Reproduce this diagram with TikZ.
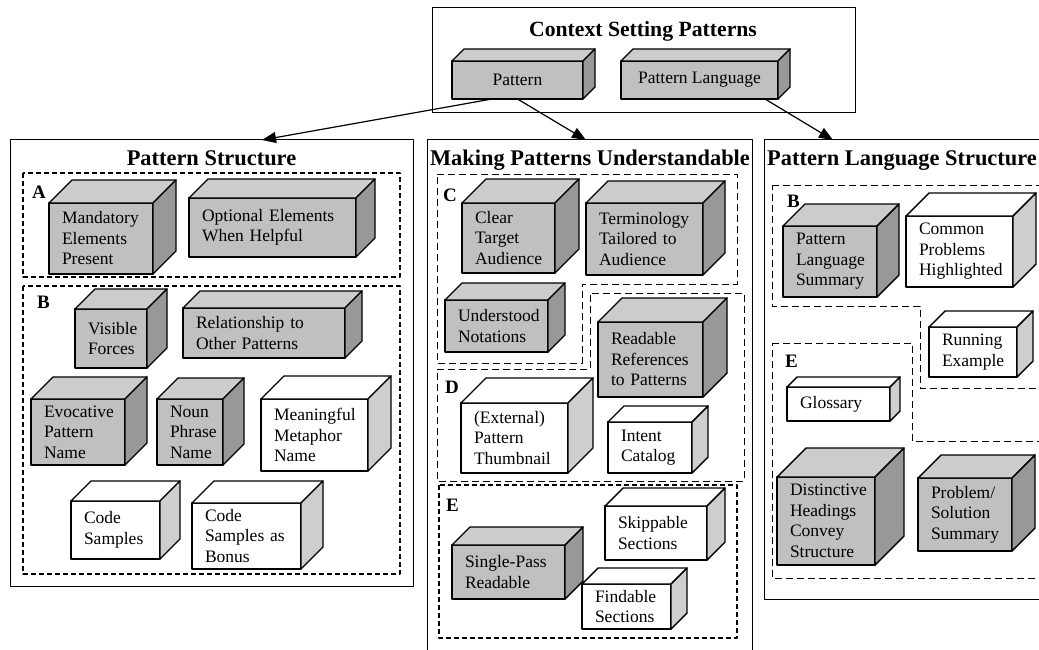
\documentclass[tikz,border=0pt]{standalone}
\usepackage{fontspec}
\setmainfont{Liberation Serif}
\usetikzlibrary{arrows.meta}

\definecolor{gfront}{RGB}{192,192,192}
\definecolor{gtop}{RGB}{204,204,204}
\definecolor{gside}{RGB}{152,152,152}
\definecolor{wfront}{RGB}{255,255,255}
\definecolor{wtop}{RGB}{255,255,255}
\definecolor{wside}{RGB}{206,206,206}

\hyphenpenalty=10000
\exhyphenpenalty=10000

\newcommand{\boxfont}{\fontsize{17.5}{20.5}\selectfont}
\newcommand{\ttlfont}{\fontsize{21.7}{26}\selectfont\bfseries}
\newcommand{\sidettlfont}{\fontsize{22.4}{26}\selectfont\bfseries}
\newcommand{\lblfont}{\fontsize{19}{22}\selectfont\bfseries}

\tikzset{
  panel/.style={draw, line width=1pt, inner sep=0pt, outer sep=0pt},
  cube/.style={draw, line width=1.4pt, inner xsep=13pt, inner ysep=0pt, outer sep=0pt, align=left, font=\boxfont},
  ttl/.style={font=\ttlfont, inner sep=0pt, anchor=base},
  sidettl/.style={ttl, font=\sidettlfont},
  lbl/.style={font=\lblfont, inner sep=0pt, anchor=base west},
  thickdash/.style={line width=1.4pt, dash pattern=on 5pt off 3pt},
  thindash/.style={line width=0.9pt, dash pattern=on 7pt off 4pt},
  link/.style={->, line width=1.2pt}
}

% top and side faces of a cube node
\newcommand{\cubefaces}[3]{%
  \draw[line width=1.4pt, fill=#3top] (#1.north west) -- ++(#2,-#2) -- ([shift={(#2,-#2)}]#1.north east) -- (#1.north east) -- cycle;
  \draw[line width=1.4pt, fill=#3side] (#1.north east) -- ++(#2,-#2) -- ([shift={(#2,-#2)}]#1.south east) -- (#1.south east) -- cycle;}

% name, colour set, front face x1 y1 x2 y2, depth, text
\newcommand{\cubebox}[8]{%
  \pgfmathsetmacro\cubew{#5-#3}%
  \pgfmathsetmacro\cubeh{#6-#4}%
  \pgfmathsetmacro\cubetw{#5-#3-26}%
  \node[cube, fill=#2front, minimum width=\cubew pt, minimum height=\cubeh pt, text width=\cubetw pt] (#1) at ({(#3+#5)/2},{(#4+#6)/2}) {#8};
  \cubefaces{#1}{#7}{#2}}

\begin{document}
\begin{tikzpicture}[line join=round,>={Triangle[length=14pt,width=11pt]},x=1pt,y=-1pt]
\useasboundingbox (0,0) rectangle (1039,650);
\clip (0,0) rectangle (1039,650);

\draw[line width=1pt] (432,8) rectangle (855,113);
\node[ttl] (ctxtitle) at (643,36.5) {Context Setting Patterns};
\node[cube, fill=gfront, minimum width=131pt, minimum height=38pt, align=center] (pat) at (517.5,80) {Pattern};
\cubefaces{pat}{12}{g}
\node[cube, fill=gfront, minimum width=157pt, minimum height=38pt, align=center] (patlang) at (699.5,80) {Pattern Language};
\cubefaces{patlang}{12}{g}

\node[panel, minimum width=403pt, minimum height=446pt] (pstruct) at (211.5,363) {};
\node[panel, minimum width=325pt, minimum height=520pt] (mpu) at (589.5,400) {};
\node[panel, minimum width=286pt, minimum height=459pt] (plstruct) at (907,369.5) {};
\node[sidettl] (pstitle) at (211.5,165) {Pattern Structure};
\node[sidettl] (mputitle) at (590,165) {Making Patterns Understandable};
\node[sidettl, anchor=base west] (plstitle) at (767,165) {Pattern Language Structure};

\draw[link] ([xshift=-25.5pt]pat.south) -- ([xshift=50.5pt]pstruct.north);
\draw[link] (pat.south) -- ([xshift=-3.5pt]mpu.north);
\draw[link] ([xshift=65.5pt]patlang.south) -- ([xshift=-74pt]plstruct.north);

\draw[thickdash] (23,173) rectangle (400,277);
\draw[thickdash] (23,286) rectangle (400,574);
\node[lbl] (la) at (32,198) {A};
\node[lbl] (lb) at (37,308) {B};
\cubebox{mand}{g}{49}{203}{153}{274}{23}{Mandatory\\Elements\\Present}
\cubebox{opt}{g}{189}{198}{356}{257}{19}{Optional Elements\\When Helpful}
\cubebox{forces}{g}{75}{309}{147}{368}{20}{Visible\\Forces}
\cubebox{rel}{g}{183}{308}{345}{358}{17}{Relationship to\\Other Patterns}
\cubebox{evoc}{g}{31}{399}{125}{465}{22}{Evocative\\Pattern\\Name}
\cubebox{noun}{g}{157}{399}{223}{465}{21}{Noun\\Phrase\\Name}
\cubebox{meta}{w}{261}{399}{368}{471}{23}{Meaningful\\Metaphor\\Name}
\cubebox{code}{w}{71}{501}{160}{559}{20}{Code\\Samples}
\cubebox{bonus}{w}{192}{503}{301}{569}{22}{Code\\Samples as\\Bonus}

\draw[thindash] (437,174) -- (737,174) -- (737,284) -- (582,284) -- (582,363) -- (437,363) -- cycle;
\draw[thindash] (437,369) -- (590,369) -- (590,293) -- (744,293) -- (744,481) -- (437,481) -- cycle;
\draw[thickdash] (439,485) rectangle (737,638);
\node[lbl] (lc) at (443,201) {C};
\node[lbl] (ld) at (445,393) {D};
\node[lbl] (le) at (446,511) {E};
\cubebox{clear}{g}{462}{203}{555}{273}{24}{Clear\\Target\\Audience}
\cubebox{term}{g}{586}{203}{703}{275}{22}{Terminology\\Tailored to\\Audience}
\cubebox{notat}{g}{445}{300}{548}{352}{17}{Understood\\Notations}
\cubebox{refs}{g}{598}{322}{703}{397}{24}{Readable\\References\\to Patterns}
\cubebox{thumb}{w}{461}{403}{568}{473}{25}{(External)\\Pattern\\Thumbnail}
\cubebox{intent}{w}{608}{422}{692}{473}{16}{Intent\\Catalog}
\cubebox{skip}{w}{605}{506}{707}{560}{18}{Skippable\\Sections}
\cubebox{single}{g}{452}{545}{565}{599}{18}{Single-Pass\\Readable}
\cubebox{find}{w}{582}{584}{671}{629}{16}{Findable\\Sections}

\draw[thindash] (772,185) -- (1050,185) -- (1050,388) -- (920,388) -- (920,306) -- (772,306) -- cycle;
\draw[thindash] (772,343) -- (912,343) -- (912,441) -- (1050,441) -- (1050,578) -- (772,578) -- cycle;
\node[lbl] (lb2) at (787,207) {B};
\node[lbl] (le2) at (785,367) {E};
\cubebox{plsum}{g}{783}{226}{877}{297}{22}{Pattern\\Language\\Summary}
\cubebox{common}{w}{906}{216}{1013}{287}{23}{Common\\Problems\\Highlighted}
\cubebox{running}{w}{929}{327}{1017}{377}{16}{Running\\Example}
\cubebox{gloss}{w}{787}{387}{890}{421}{10}{Glossary}
\cubebox{heads}{g}{777}{477}{875}{565}{29}{Distinctive\\Headings\\Convey\\Structure}
\cubebox{probsol}{g}{918}{478}{1012}{551}{23}{Problem/\\Solution\\Summary}
\end{tikzpicture}
\end{document}
